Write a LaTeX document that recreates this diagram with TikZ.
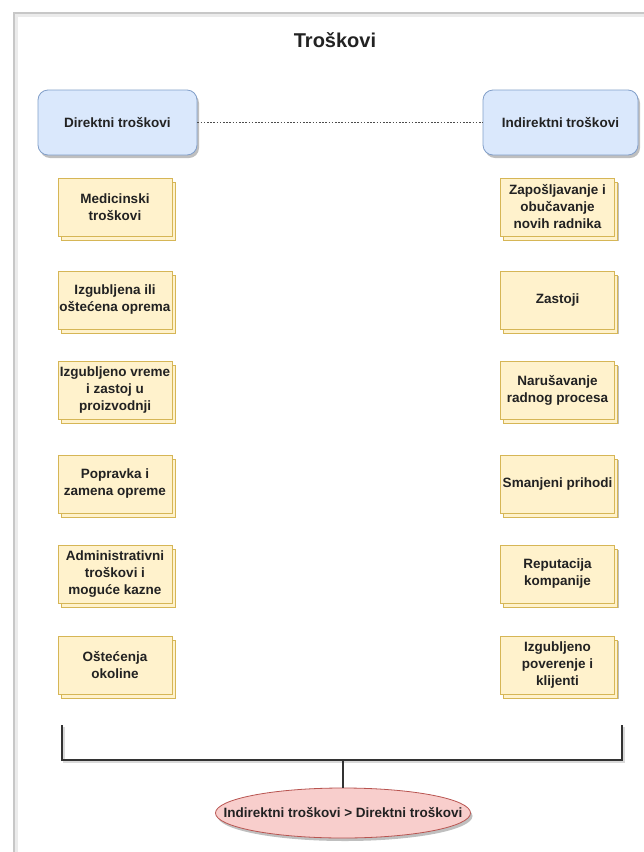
\documentclass[tikz,border=0pt]{standalone}
\usepackage{fontspec}
\setmainfont{Liberation Sans}
\usetikzlibrary{shadows,shapes.geometric}
\definecolor{yfill}{HTML}{FFF2CC}
\definecolor{ydraw}{HTML}{D6B656}
\definecolor{bfill}{HTML}{DAE8FC}
\definecolor{bdraw}{HTML}{6C8EBF}
\definecolor{rfill}{HTML}{F8CECC}
\definecolor{rdraw}{HTML}{B85450}
\definecolor{txt}{HTML}{222222}
\begin{document}
\begin{tikzpicture}[x=1pt,y=-1pt,
  costbox/.style={draw=ydraw, fill=yfill, line width=0.8pt,
    minimum width=114pt, minimum height=58pt, inner sep=1pt, align=center,
    font=\fontsize{13.5}{17}\selectfont\bfseries, text=txt,
    drop shadow={shadow xshift=4pt, shadow yshift=-5pt, opacity=.25, fill=black},
    copy shadow={shadow xshift=3pt, shadow yshift=-4pt}},
  catbox/.style={draw=bdraw!85, fill=bfill, line width=0.8pt, rounded corners=10pt,
    minimum height=65pt, align=center,
    font=\fontsize{13.5}{16}\selectfont\bfseries, text=txt,
    drop shadow={shadow xshift=2pt, shadow yshift=-3pt, opacity=.25, fill=black}},
  resbox/.style={ellipse, draw=rdraw, fill=rfill, line width=0.8pt,
    minimum width=255pt, minimum height=50pt, inner sep=0pt,
    drop shadow={shadow xshift=2pt, shadow yshift=-3pt, opacity=.25, fill=black}},
  bracket/.style={draw=black!80, line width=1.3pt},
]
\useasboundingbox (0,0) rectangle (644,852);
\fill[white] (0,0) rectangle (644,852);
% page frame
\draw[black!8, line width=4pt] (16,852) -- (16,15) -- (644,15);
\draw[black!22, line width=1.6pt] (14,852) -- (14,13) -- (644,13);

\node[font=\fontsize{20}{24}\selectfont\bfseries, text=txt] (title) at (335,40) {Troškovi};

\node[catbox, minimum width=159pt] (dir) at (117.5,122.5) {Direktni troškovi};
\node[catbox, minimum width=155pt] (ind) at (560.5,122.5) {Indirektni troškovi};
\draw[black!70, line width=0.8pt, dash pattern=on 1.6pt off 1.6pt] (dir.east) -- (ind.west);

% direct costs
\node[costbox] (d1) at (115,207) {Medicinski\\troškovi};
\node[costbox] (d2) at (115,300) {Izgubljena ili\\oštećena oprema};
\node[costbox] (d3) at (115,390) {Izgubljeno vreme\\i zastoj u\\proizvodnji};
\node[costbox] (d4) at (115,484) {Popravka i\\zamena opreme};
\node[costbox] (d5) at (115,574) {Administrativni\\troškovi i\\moguće kazne};
\node[costbox] (d6) at (115,665) {Oštećenja\\okoline};

% indirect costs
\node[costbox] (i1) at (557.5,207) {Zapošljavanje i\\obučavanje\\novih radnika};
\node[costbox] (i2) at (557.5,300) {Zastoji};
\node[costbox] (i3) at (557.5,390) {Narušavanje\\radnog procesa};
\node[costbox] (i4) at (557.5,484) {Smanjeni prihodi};
\node[costbox] (i5) at (557.5,574) {Reputacija\\kompanije};
\node[costbox] (i6) at (557.5,665) {Izgubljeno\\poverenje i\\klijenti};

% bracket
\coordinate (bl) at (62,725);
\coordinate (blc) at (62,760);
\coordinate (brc) at (622,760);
\coordinate (br) at (622,725);
\coordinate (bm) at (343,760);

\node[resbox, label={[font=\fontsize{13.5}{16}\selectfont\bfseries, text=txt]center:Indirektni troškovi > Direktni troškovi}] (res) at (343,813) {};

\draw[black!15, line width=1.3pt] ([shift={(2,2)}]bl) -- ([shift={(2,2)}]blc) -- ([shift={(2,2)}]brc) -- ([shift={(2,2)}]br);
\draw[bracket] (bl) -- (blc) -- (brc) -- (br);
\draw[bracket] (bm) -- (res.north);
\end{tikzpicture}
\end{document}
